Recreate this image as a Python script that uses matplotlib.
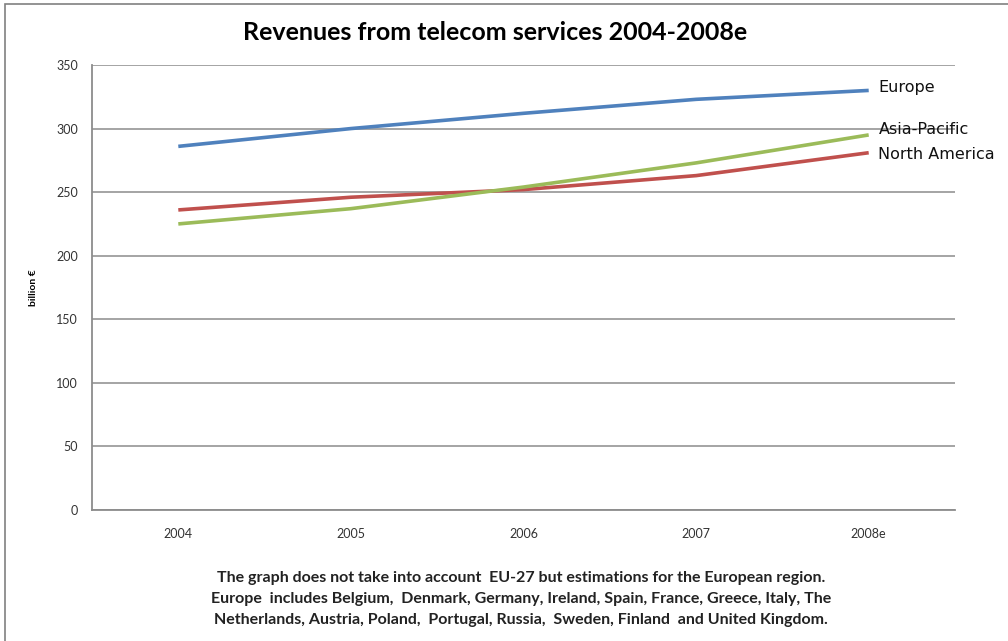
import matplotlib
matplotlib.use('Agg')
import matplotlib.pyplot as plt
from matplotlib.patches import Rectangle

years = ['2004', '2005', '2006', '2007', '2008e']
europe = [286, 300, 312, 323, 330]
north_america = [236, 246, 252, 263, 281]
asia_pacific = [225, 237, 254, 273, 295]
series_names = ['Europe', 'Asia-Pacific', 'North America']
yticks = [0, 50, 100, 150, 200, 250, 300, 350]

title = 'Revenues from telecom services 2004-2008e'
note = ('The graph does not take into account  EU-27 but estimations for the European region.\n'
        'Europe  includes Belgium,  Denmark, Germany, Ireland, Spain, France, Greece, Italy, The\n'
        'Netherlands, Austria, Poland,  Portugal, Russia,  Sweden, Finland  and United Kingdom.')

W, H = 1008, 641
fig = plt.figure(figsize=(W / 100, H / 100), dpi=100)
fig.patch.set_facecolor('white')

# outer chart frame
fig.patches.append(Rectangle((5 / W, -0.01), 1.1, 1 - 4 / H + 0.01, transform=fig.transFigure,
                             fill=False, edgecolor='#808080', linewidth=1.2))

ax = fig.add_axes([92 / W, 1 - 510 / H, (955 - 92) / W, (510 - 65) / H])
x = list(range(len(years)))
ax.set_xlim(-0.5, len(years) - 0.5)
ax.set_ylim(0, 350)

ax.plot(x, europe, color='#4F81BD', linewidth=2.6, solid_capstyle='butt', zorder=3)
ax.plot(x, north_america, color='#C0504D', linewidth=2.6, solid_capstyle='butt', zorder=3)
ax.plot(x, asia_pacific, color='#9BBB59', linewidth=2.6, solid_capstyle='butt', zorder=4)

# series names next to the last point
label_offsets = {'Europe': 2, 'Asia-Pacific': 4, 'North America': -1}
for name, vals in zip(series_names, [europe, asia_pacific, north_america]):
    ax.annotate(name, (x[-1], vals[-1]), xytext=(7, label_offsets[name]),
                textcoords='offset points', va='center', ha='left', fontsize=11.5,
                family='DejaVu Sans', color='#111111', annotation_clip=False)

ax.set_yticks(yticks)
ax.yaxis.grid(True, color='#8c8c8c', linewidth=1.1)
ax.set_axisbelow(True)
ax.set_xticks(x)
ax.set_xticklabels(years)
for s in ['top', 'right']:
    ax.spines[s].set_visible(False)
for s in ['left', 'bottom']:
    ax.spines[s].set_color('#8c8c8c')
    ax.spines[s].set_linewidth(1.3)
ax.tick_params(axis='both', length=0, labelsize=9, colors='#333333')
ax.tick_params(axis='y', pad=10)
ax.tick_params(axis='x', pad=13)
for lab in ax.get_xticklabels() + ax.get_yticklabels():
    lab.set_family('Lato')

ax.set_ylabel('billion €', fontsize=7.5, fontweight='bold', family='Lato')
ax.yaxis.set_label_coords(-54 / 863, 0.5)

fig.text(495 / W, 1 - 32 / H, title, ha='center', va='center', fontsize=18,
         fontweight='bold', family='Lato')
fig.text(521 / W, 1 - 599 / H, note, ha='center', va='center', fontsize=11.5,
         fontweight='bold', family='Lato', linespacing=1.6, color='#222222')

plt.savefig('out.png', dpi=100)
